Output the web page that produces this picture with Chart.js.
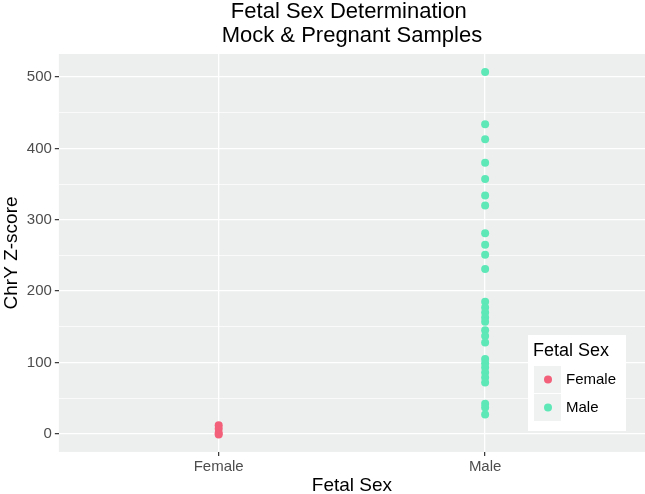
<!DOCTYPE html>
<html>
<head>
<meta charset="utf-8">
<script src="https://cdn.jsdelivr.net/npm/chart.js@4"></script>
<style>
  html, body { margin: 0; background: #fff; }
  #wrap { width: 645px; height: 494px; }
</style>
</head>
<body>
<div id="wrap"><canvas id="chart"></canvas></div>
<script>
const SEX_LABELS = ["Female", "Male"];
const SEX_COLORS = ["#f2607a", "#5ee8b8"];
const FEMALE_SCORES = [12, 7, 1, -1];
const MALE_SCORES = [
  507, 434, 413, 380, 357, 334, 320, 281, 265, 251, 231,
  185, 177, 170, 163, 157, 145, 137, 128,
  105, 99, 93, 86, 79, 72, 42, 37, 27,
];
const Y_TICKS = [0, 50, 100, 150, 200, 250, 300, 350, 400, 450, 500];
const TITLE_LINES = ["Fetal Sex Determination ", "Mock & Pregnant Samples"];

const FONT = "'Liberation Sans', Arial, Helvetica, sans-serif";
const PANEL_BG = "#edefee";

function toPoints(xPos, scores) {
  return scores.map((y) => ({ x: xPos, y }));
}

const panelBackground = {
  id: "panelBackground",
  beforeDraw(chart) {
    const { ctx, chartArea: a } = chart;
    ctx.save();
    ctx.fillStyle = PANEL_BG;
    ctx.fillRect(a.left, a.top, a.right - a.left, a.bottom - a.top);
    ctx.restore();
  },
};

// title centred over the panel, like ggplot does it
const panelTitle = {
  id: "panelTitle",
  afterDraw(chart) {
    const { ctx, chartArea: a } = chart;
    const cx = (a.left + a.right) / 2;
    ctx.save();
    ctx.fillStyle = "#000";
    ctx.font = `22px ${FONT}`;
    ctx.textAlign = "center";
    ctx.textBaseline = "alphabetic";
    TITLE_LINES.forEach((line, i) => ctx.fillText(line, cx, 18 + i * 23.5));
    ctx.restore();
  },
};

// ggplot-style legend sitting inside the panel, bottom right
const insideLegend = {
  id: "insideLegend",
  afterDraw(chart) {
    const { ctx } = chart;
    const box = { x: 528, y: 335, w: 98, h: 96 };
    ctx.save();
    ctx.fillStyle = "#ffffff";
    ctx.fillRect(box.x, box.y, box.w, box.h);
    ctx.fillStyle = "#000";
    ctx.font = `18px ${FONT}`;
    ctx.textBaseline = "middle";
    ctx.textAlign = "left";
    ctx.fillText("Fetal Sex", box.x + 5, box.y + 16);
    chart.data.datasets.forEach((ds, i) => {
      const ky = box.y + 31 + i * 28;
      ctx.fillStyle = "#f0f2f1";
      ctx.fillRect(box.x + 6, ky, 27, 27);
      ctx.fillStyle = ds.backgroundColor;
      ctx.beginPath();
      ctx.arc(box.x + 20, ky + 13.5, 4, 0, Math.PI * 2);
      ctx.fill();
      ctx.fillStyle = "#000";
      ctx.font = `15px ${FONT}`;
      ctx.fillText(ds.label, box.x + 38, ky + 14);
    });
    ctx.restore();
  },
};

new Chart(document.getElementById("chart"), {
  type: "scatter",
  data: {
    datasets: [
      {
        label: SEX_LABELS[0],
        data: toPoints(1, FEMALE_SCORES),
        backgroundColor: SEX_COLORS[0],
        borderWidth: 0,
        pointRadius: 4,
      },
      {
        label: SEX_LABELS[1],
        data: toPoints(2, MALE_SCORES),
        backgroundColor: SEX_COLORS[1],
        borderWidth: 0,
        pointRadius: 4,
      },
    ],
  },
  options: {
    responsive: true,
    maintainAspectRatio: false,
    animation: false,
    layout: { autoPadding: false, padding: { left: 0, right: 0, top: 54, bottom: 0 } },
    plugins: {
      legend: { display: false },
      tooltip: { enabled: false },
      title: { display: false },
    },
    scales: {
      x: {
        type: "linear",
        min: 0.4,
        max: 2.6,
        afterBuildTicks: (scale) => {
          scale.ticks = SEX_LABELS.map((_, i) => ({ value: i + 1 }));
        },
        ticks: {
          color: "#4d4d4d",
          font: { family: FONT, size: 15, lineHeight: 1 },
          padding: 3,
          callback: (v) => SEX_LABELS[v - 1],
        },
        grid: {
          color: "#ffffff",
          lineWidth: 1.3,
          tickLength: 4,
          tickColor: "#333333",
          tickWidth: 1.2,
        },
        border: { display: false },
        title: {
          display: true,
          text: "Fetal Sex",
          color: "#000",
          font: { family: FONT, size: 19, lineHeight: 0.9 },
          padding: { top: 0, bottom: 0 },
        },
      },
      y: {
        min: -25.35,
        max: 532.35,
        afterBuildTicks: (scale) => {
          scale.ticks = Y_TICKS.map((value) => ({ value }));
        },
        ticks: {
          color: "#4d4d4d",
          font: { family: FONT, size: 15 },
          padding: 3,
          callback: (v) => (v % 100 === 0 ? String(v) : ""),
        },
        grid: {
          color: "#ffffff",
          lineWidth: (c) => (c.tick && c.tick.value % 100 === 0 ? 1.3 : 0.7),
          tickLength: 4,
          tickColor: (c) => (c.tick && c.tick.value % 100 === 0 ? "#333333" : "rgba(0,0,0,0)"),
          tickWidth: 1.2,
        },
        border: { display: false },
        title: {
          display: true,
          text: "ChrY Z-score",
          color: "#000",
          font: { family: FONT, size: 19, lineHeight: 1.2 },
          padding: { top: 0, bottom: 1 },
        },
      },
    },
  },
  plugins: [panelBackground, panelTitle, insideLegend],
});
</script>
</body>
</html>
